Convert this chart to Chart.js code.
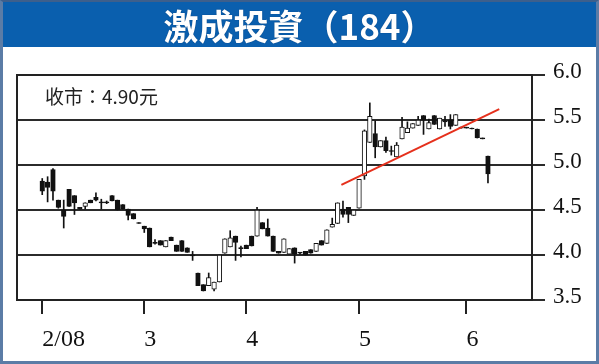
<!DOCTYPE html>
<html>
<head>
<meta charset="utf-8">
<script src="https://cdn.jsdelivr.net/npm/chart.js@4.4.1/dist/chart.umd.min.js"></script>
<style>
  html, body { margin: 0; padding: 0; background: #fff; }
  body { position: relative; width: 599px; height: 364px; overflow: hidden; }
  #frame { position: absolute; left: 0; top: 0; width: 599px; height: 364px; box-sizing: border-box; border: 3px solid #5b7ca6; border-top: 2px solid #3d5f8c; }
  #head { position: absolute; left: 3px; top: 2px; width: 593px; height: 45px; background: #0a5fae; color: #fff; text-align: center; font: bold 35px "Noto Sans CJK TC", sans-serif; line-height: 45px; text-shadow: 0 0 1px #02356b; z-index: 2; }
  #chart { position: absolute; left: 0; top: 0; z-index: 1; }
  #close { position: absolute; left: 45px; top: 86px; font: 19px "Noto Sans CJK TC", sans-serif; line-height: 19px; color: #222; z-index: 2; }
</style>
</head>
<body>
<div id="frame"></div>
<div id="head">激成投資（184）</div>
<canvas id="chart" width="599" height="364"></canvas>
<div id="close">收市：4.90元</div>
<script>
// daily prices, Feb 1 2008 onward (index 0 = first trading day)
const opens = [4.82, 4.81, 4.95, 4.61, 4.50, 4.73, 4.66, 4.53, 4.54, 4.61,
  4.64, 4.59, 4.59, 4.66, 4.61, 4.56, 4.51, 4.46, 4.36, 4.32,
  4.30, 4.14, 4.16, 4.09, 4.20, 4.11, 4.16, 4.08, 4.00, 3.80,
  3.67, 3.66, 3.62, 3.70, 4.02, 4.09, 4.21, 4.08, 4.11, 4.21,
  4.21, 4.36, 4.30, 4.21, 4.04, 4.03, 4.01, 4.08, 4.02, 4.04,
  4.06, 4.04, 4.16, 4.13, 4.31, 4.35, 4.51, 4.53, 4.44, 4.52,
  4.88, 5.25, 5.35, 5.20, 5.27, 5.16, 5.09, 5.29, 5.36, 5.41,
  5.44, 5.55, 5.40, 5.55, 5.40, 5.49, 5.50, 5.44, 5.42, 5.42,
  5.41, 5.40, 5.30, 5.10];
const highs = [4.85, 4.87, 4.96, 4.61, 4.61, 4.73, 4.66, 4.53, 4.58, 4.61,
  4.69, 4.62, 4.60, 4.66, 4.61, 4.56, 4.51, 4.46, 4.36, 4.32,
  4.30, 4.17, 4.16, 4.16, 4.20, 4.11, 4.16, 4.08, 4.04, 3.80,
  3.67, 3.80, 3.70, 4.00, 4.18, 4.27, 4.21, 4.10, 4.11, 4.21,
  4.53, 4.36, 4.40, 4.21, 4.04, 4.18, 4.07, 4.08, 4.03, 4.04,
  4.06, 4.13, 4.16, 4.28, 4.41, 4.58, 4.60, 4.53, 4.50, 4.84,
  5.39, 5.69, 5.49, 5.27, 5.31, 5.21, 5.25, 5.53, 5.48, 5.46,
  5.54, 5.55, 5.51, 5.55, 5.52, 5.54, 5.56, 5.56, 5.42, 5.42,
  5.41, 5.40, 5.30, 5.10];
const lows = [4.67, 4.59, 4.61, 4.52, 4.30, 4.54, 4.45, 4.51, 4.51, 4.58,
  4.60, 4.51, 4.57, 4.60, 4.50, 4.51, 4.39, 4.40, 4.35, 4.25,
  4.09, 4.12, 4.11, 4.09, 4.16, 4.04, 4.04, 4.03, 3.94, 3.66,
  3.60, 3.66, 3.60, 3.70, 4.02, 4.09, 3.94, 3.98, 4.07, 4.10,
  4.21, 4.29, 4.21, 4.04, 4.02, 4.03, 4.01, 3.91, 4.01, 4.00,
  4.02, 4.04, 4.11, 4.13, 4.31, 4.35, 4.42, 4.36, 4.44, 4.52,
  4.84, 5.25, 5.08, 5.20, 5.14, 5.11, 5.09, 5.29, 5.36, 5.41,
  5.44, 5.34, 5.40, 5.45, 5.40, 5.43, 5.40, 5.44, 5.41, 5.41,
  5.40, 5.30, 5.29, 4.80];
const closes = [4.71, 4.75, 4.71, 4.53, 4.43, 4.54, 4.58, 4.51, 4.58, 4.58,
  4.61, 4.58, 4.58, 4.60, 4.50, 4.51, 4.44, 4.40, 4.35, 4.29,
  4.09, 4.13, 4.11, 4.16, 4.16, 4.04, 4.04, 4.03, 3.99, 3.66,
  3.60, 3.75, 3.70, 4.00, 4.18, 4.19, 4.14, 4.07, 4.07, 4.10,
  4.50, 4.29, 4.21, 4.04, 4.02, 4.18, 4.07, 4.01, 4.02, 4.00,
  4.02, 4.13, 4.11, 4.28, 4.34, 4.58, 4.45, 4.45, 4.50, 4.84,
  5.38, 5.54, 5.20, 5.27, 5.16, 5.15, 5.22, 5.42, 5.41, 5.46,
  5.50, 5.50, 5.47, 5.45, 5.52, 5.48, 5.43, 5.56, 5.41, 5.41,
  5.40, 5.30, 5.29, 4.90];

const tickIdx = [0, 19, 38, 59, 79];
const tickText = ['2/08', '3', '4', '5', '6'];
const yTicks = [3.5, 4.0, 4.5, 5.0, 5.5, 6.0];

// red trend line
const trendIdx = [55.7, 85.1];
const trendVal = [4.78, 5.62];

const bodies = opens.map((o, i) => ({ x: i, y: [o, closes[i]] }));
const wicks = lows.map((l, i) => ({ x: i, y: [l, highs[i]] }));
const fills = opens.map((o, i) => (closes[i] > o ? '#ffffff' : '#111111'));

// left + top sides of the plot box
const boxLines = {
  id: 'boxLines',
  afterDraw(chart) {
    const { ctx, chartArea: a } = chart;
    ctx.save();
    ctx.strokeStyle = '#222';
    ctx.lineWidth = 2;
    ctx.beginPath();
    ctx.moveTo(a.left, a.bottom);
    ctx.lineTo(a.left, a.top);
    ctx.lineTo(a.right, a.top);
    ctx.stroke();
    ctx.restore();
  }
};

new Chart(document.getElementById('chart'), {
  type: 'bar',
  data: {
    datasets: [
      {
        type: 'line',
        data: trendIdx.map((x, i) => ({ x: x, y: trendVal[i] })),
        borderColor: '#e5301c',
        borderWidth: 2,
        pointRadius: 0,
        order: 0
      },
      {
        data: bodies,
        backgroundColor: fills,
        borderColor: '#111',
        borderWidth: 1,
        borderSkipped: false,
        barThickness: 4.6,
        minBarLength: 1,
        grouped: false,
        order: 1
      },
      {
        data: wicks,
        backgroundColor: '#111',
        barThickness: 1,
        grouped: false,
        order: 2
      }
    ]
  },
  options: {
    responsive: false,
    animation: false,
    layout: { padding: { left: 17, top: 75, right: 0, bottom: 0 } },
    plugins: { legend: { display: false }, tooltip: { enabled: false } },
    scales: {
      x: {
        type: 'linear',
        min: -4.7,
        max: 91.2,
        offset: false,
        afterBuildTicks: (s) => { s.ticks = tickIdx.map((v) => ({ value: v })); },
        afterFit: (s) => { s.height = 64; },
        grid: { drawOnChartArea: false, offset: false, tickLength: 14, color: '#222', lineWidth: 2 },
        border: { color: '#222', width: 2 },
        ticks: {
          align: 'start',
          padding: 11,
          maxRotation: 0,
          autoSkip: false,
          color: '#111',
          font: { family: '"Liberation Serif"', size: 24 },
          callback: (v) => tickText[tickIdx.indexOf(v)]
        }
      },
      y: {
        position: 'right',
        min: 3.5,
        max: 6.0,
        beginAtZero: false,
        afterBuildTicks: (s) => { s.ticks = yTicks.map((v) => ({ value: v })); },
        afterFit: (s) => { s.width = 67; },
        grid: { color: '#2b2b2b', lineWidth: 2, tickLength: 13 },
        border: { color: '#222', width: 2 },
        ticks: {
          padding: 8,
          labelOffset: -3,
          color: '#111',
          font: { family: '"Liberation Serif"', size: 23 },
          callback: (v) => v.toFixed(1)
        }
      }
    }
  },
  plugins: [boxLines]
});
</script>
</body>
</html>
